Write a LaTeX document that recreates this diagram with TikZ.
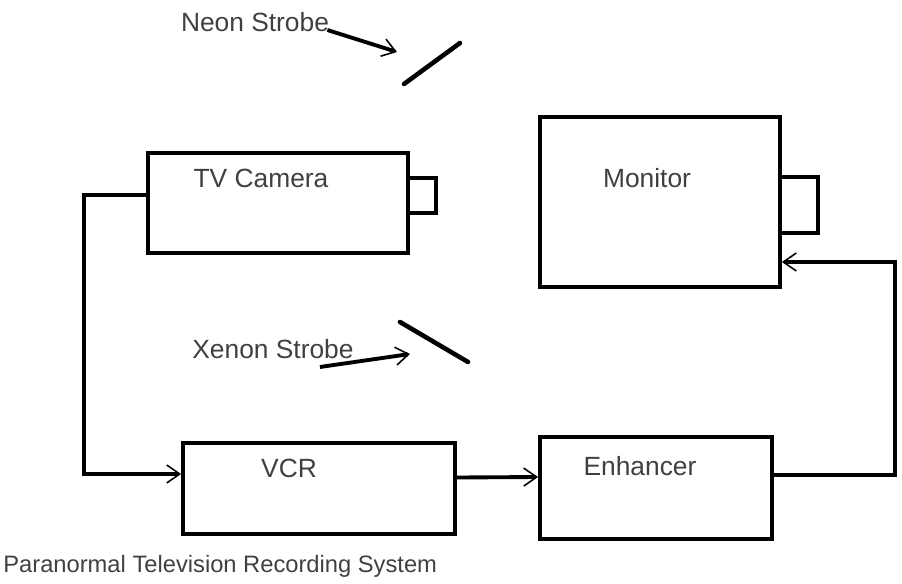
\documentclass[tikz,border=0pt]{standalone}
\usepackage{fontspec}
\setmainfont{Liberation Sans}
\usetikzlibrary{arrows.meta, positioning}

\begin{document}
\begin{tikzpicture}[
    x=0.02cm, y=-0.02cm,
    box/.style={rectangle, draw, line width=2.2pt, inner sep=0pt},
    txt/.style={font=\fontsize{15}{17}\selectfont, text=black!75, inner sep=0pt},
    arrow/.style={-{Straight Barb[length=2.6mm, width=3.6mm, line width=0.9pt]}, line width=2.2pt},
    strobe/.style={line width=2.6pt, line cap=round}
]
\useasboundingbox (0,0) rectangle (902,584);

% Boxes
\node[box, minimum width=5.2cm, minimum height=2cm] (cam) at (278,203) {};
\node[box, minimum width=0.56cm, minimum height=0.7cm] (camlens) at (422,195.5) {};
\node[box, minimum width=4.8cm, minimum height=3.4cm] (mon) at (660,202) {};
\node[box, minimum width=0.76cm, minimum height=1.12cm] (monlens) at (799,205) {};
\node[box, minimum width=5.44cm, minimum height=1.82cm] (vcr) at (319,488.5) {};
\node[box, minimum width=4.64cm, minimum height=2.04cm] (enh) at (656,488) {};

% Labels
\node[txt] (camtxt) at (261,178) {TV Camera};
\node[txt] (montxt) at (647,178) {Monitor};
\node[txt] (vcrtxt) at (289,468) {VCR};
\node[txt] (enhtxt) at (640,466) {Enhancer};
\node[txt] (neon) at (255,22) {Neon Strobe};
\node[txt] (xenon) at (273,349) {Xenon Strobe};
\node[txt, font=\fontsize{13.5}{16}\selectfont, anchor=west] (caption) at (3,566) {Paranormal Television Recording System};

% Strobes
\coordinate (neontip) at (397,52);
\coordinate (xenontip) at (410,354);
\draw[strobe] (404,84) -- (460,43);
\draw[strobe] (400,322) -- (468,362);
\draw[arrow] ([xshift=-0.04cm, yshift=-0.16cm]neon.east) -- (neontip);
\draw[arrow] ([xshift=-0.68cm, yshift=-0.36cm]xenon.east) -- (xenontip);

% Connectors
\draw[arrow] ([yshift=0.16cm]cam.west) -- ++(-62,0) |- ([yshift=0.29cm]vcr.west);
\draw[arrow] ([yshift=0.22cm]vcr.east) -- ([yshift=0.22cm]enh.west);
\draw[arrow] ([yshift=0.26cm]enh.east) -- ++(121,0) |- ([yshift=-1.2cm]mon.east);
\end{tikzpicture}
\end{document}
